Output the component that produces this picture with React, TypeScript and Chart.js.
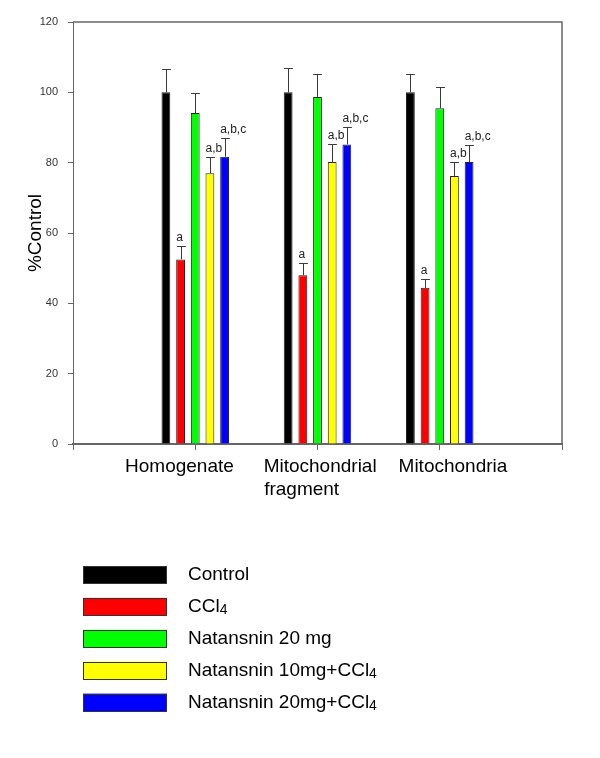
import React, { useEffect, useRef } from 'react';
import { Chart, registerables } from 'chart.js';

Chart.register(...registerables);

// ---- data ----
const categories = ['Homogenate', 'Mitochondrial fragment', 'Mitochondria'];
const seriesNames = ['Control', 'CCl₄', 'Natansnin 20 mg', 'Natansnin 10mg+CCl₄', 'Natansnin 20mg+CCl₄'];

const controlValues = [100, 100, 100];
const cclValues = [52.5, 48.0, 44.4];
const natan20Values = [94.1, 98.7, 95.5];
const natan10CclValues = [77.0, 80.2, 76.2];
const natan20CclValues = [81.7, 85.2, 80.2];

const controlErrors = [6.5, 6.9, 5.3];
const cclErrors = [3.8, 3.4, 2.5];
const natan20Errors = [5.8, 6.4, 6.0];
const natan10CclErrors = [4.6, 5.2, 3.9];
const natan20CclErrors = [5.4, 4.9, 4.7];

const controlSig = ['', '', ''];
const cclSig = ['a', 'a', 'a'];
const natan20Sig = ['', '', ''];
const natan10CclSig = ['a,b', 'a,b', 'a,b'];
const natan20CclSig = ['a,b,c', 'a,b,c', 'a,b,c'];

const yTicks = [0, 20, 40, 60, 80, 100, 120];

// ---- styles ----
const seriesColors = ['#000000', '#ff0000', '#00ff00', '#ffff00', '#0000ff'];
const FONT = '"Liberation Sans", Arial, sans-serif';
const AXIS = '#666666';

const pad = (arr: (number | null)[]) => [null, ...arr, null];

const errorBarPlugin = {
  id: 'errorBars',
  afterDatasetsDraw(chart: any) {
    const ctx = chart.ctx;
    const yScale = chart.scales.y;
    chart.data.datasets.forEach((ds: any, di: number) => {
      const meta = chart.getDatasetMeta(di);
      meta.data.forEach((el: any, i: number) => {
        const v = ds.data[i];
        if (v === null || v === undefined) return;
        const err = ds.errors[i - 1];
        const yTop = yScale.getPixelForValue(v + err);
        const half = el.width / 2;
        ctx.save();
        ctx.strokeStyle = '#3a3a3a';
        ctx.lineWidth = 1;
        ctx.beginPath();
        const cx = Math.round(el.x) + 0.5;
        const yt = Math.round(yTop) + 0.5;
        ctx.moveTo(cx, el.y);
        ctx.lineTo(cx, yt);
        ctx.moveTo(cx - half, yt);
        ctx.lineTo(cx + half, yt);
        ctx.stroke();
        const s = ds.sig[i - 1];
        if (s) {
          ctx.fillStyle = '#222222';
          ctx.font = `12px ${FONT}`;
          ctx.textAlign = 'left';
          ctx.textBaseline = 'alphabetic';
          ctx.fillText(s, el.x - half, yt - 6);
        }
        ctx.restore();
      });
    });
  },
};

const framePlugin = {
  id: 'frame',
  afterDraw(chart: any) {
    const { ctx, chartArea } = chart;
    ctx.save();
    ctx.strokeStyle = AXIS;
    ctx.lineWidth = 1.5;
    ctx.beginPath();
    ctx.moveTo(chartArea.left, chartArea.top);
    ctx.lineTo(chartArea.right, chartArea.top);
    ctx.lineTo(chartArea.right, chartArea.bottom);
    ctx.stroke();
    ctx.restore();
  },
};

const drawSubText = (ctx: any, text: string, x: number, y: number, size: number) => {
  const parts = text.split('₄');
  let cx = x;
  parts.forEach((p, idx) => {
    ctx.font = `${size}px ${FONT}`;
    ctx.fillText(p, cx, y);
    cx += ctx.measureText(p).width;
    if (idx < parts.length - 1) {
      ctx.font = `14px ${FONT}`;
      ctx.fillText('4', cx, y + 2);
      cx += ctx.measureText('4').width;
    }
  });
};

const legendPlugin = {
  id: 'customLegend',
  afterDraw(chart: any) {
    const ctx = chart.ctx;
    const boxX = 83;
    const boxW = 84;
    const boxH = 18;
    const top0 = 566;
    const step = 31.9;
    chart.data.datasets.forEach((ds: any, i: number) => {
      const top = top0 + i * step;
      ctx.save();
      ctx.fillStyle = ds.backgroundColor;
      ctx.fillRect(boxX, top, boxW, boxH);
      ctx.strokeStyle = '#333333';
      ctx.lineWidth = 1;
      ctx.strokeRect(boxX + 0.5, Math.round(top) + 0.5, boxW - 1, boxH - 1);
      ctx.fillStyle = '#000000';
      ctx.textAlign = 'left';
      ctx.textBaseline = 'alphabetic';
      drawSubText(ctx, ds.label, 188, top + boxH / 2 + 5, 19);
      ctx.restore();
    });
  },
};

const leadPad = [0, 0, 1, 5, 0];
const trailPad = [0, 6, 0, 0, 0];

function App() {
  const ref = useRef<HTMLCanvasElement | null>(null);
  useEffect(() => {
    if (!ref.current) return;
    const values = [controlValues, cclValues, natan20Values, natan10CclValues, natan20CclValues];
    const errors = [controlErrors, cclErrors, natan20Errors, natan10CclErrors, natan20CclErrors];
    const sigs = [controlSig, cclSig, natan20Sig, natan10CclSig, natan20CclSig];
    const chart = new Chart(ref.current, {
      type: 'bar',
      data: {
        labels: ['', ...categories, ''],
        datasets: seriesNames.map((name, i) => ({
          label: name,
          data: pad(values[i]),
          backgroundColor: seriesColors[i],
          borderColor: '#222222',
          borderWidth: 1,
          categoryPercentage: 0.6,
          barPercentage: 0.6,
          errors: errors[i],
          sig: sigs[i],
        })) as any,
      },
      options: {
        responsive: false,
        animation: false,
        devicePixelRatio: 1,
        layout: { padding: { top: 22, right: 38, left: 0, bottom: 0 } },
        plugins: { legend: { display: false }, tooltip: { enabled: false } },
        scales: {
          x: {
            type: 'category',
            offset: false,
            grid: { offset: false, drawOnChartArea: false, drawTicks: true, tickLength: 6, color: AXIS },
            border: { color: AXIS, width: 2 },
            ticks: {
              autoSkip: false,
              maxRotation: 0,
              padding: 5,
              color: '#000000',
              font: { family: FONT, size: 19, lineHeight: '23px' },
              callback: (value: any, index: number) => {
                const name = index >= 1 && index <= categories.length ? categories[index - 1] : '';
                if (!name) return '';
                const lead = ' '.repeat(leadPad[index]);
                const trail = ' '.repeat(trailPad[index]);
                const words = name.split(' ');
                if (name.length > 14 && words.length > 1) {
                  return [lead + words[0], lead + words.slice(1).join(' ') + '       '];
                }
                return lead + name + trail;
              },
            },
            afterFit: (s: any) => { s.height = 314; },
          },
          y: {
            min: 0,
            max: 120,
            grid: { drawOnChartArea: false, drawTicks: true, tickLength: 5, color: AXIS },
            border: { color: AXIS, width: 1 },
            ticks: {
              padding: 10,
              color: '#333333',
              font: { family: FONT, size: 11 },
            },
            afterBuildTicks: (s: any) => { s.ticks = yTicks.map((v) => ({ value: v })); },
            title: {
              display: true,
              text: '%Control',
              color: '#000000',
              font: { family: FONT, size: 19 },
              padding: { top: 24, bottom: 0 },
            },
            afterFit: (s: any) => { s.width = 73; },
          },
        },
      } as any,
      plugins: [errorBarPlugin, framePlugin, legendPlugin],
    });
    return () => chart.destroy();
  }, []);
  return (
    <div style={{ position: 'absolute', left: 0, top: 0, width: 600, height: 758, background: '#ffffff' }}>
      <canvas ref={ref} width={600} height={758} style={{ display: 'block' }} />
    </div>
  );
}

export default App;
